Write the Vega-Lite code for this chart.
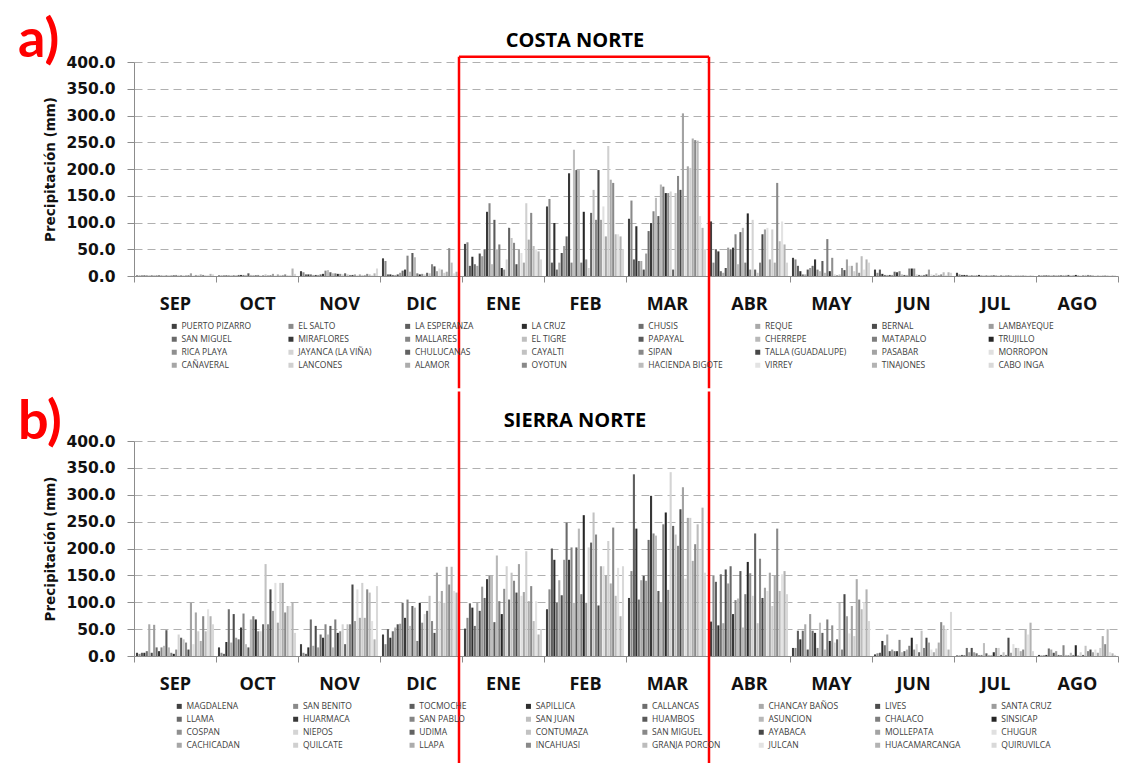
{
"$schema":"https://vega.github.io/schema/vega-lite/v6.json",
"padding":{"left":18,"top":14,"right":10,"bottom":0},
"spacing":0,
"resolve":{"scale":{"color":"independent"},"legend":{"color":"independent"}},
"config":{"font":"Open Sans","view":{"stroke":null},
"axis":{"domainColor":"#8c8c8c","tickColor":"#8c8c8c","labelColor":"#111111","titleColor":"#111111","labelFontWeight":"bold","titleFontWeight":"bold"}},
"datasets":{
"na":[{"i":0,"n":"PUERTO PIZARRO"},{"i":1,"n":"EL SALTO"},{"i":2,"n":"LA ESPERANZA"},{"i":3,"n":"LA CRUZ"},{"i":4,"n":"CHUSIS"},{"i":5,"n":"REQUE"},{"i":6,"n":"BERNAL"},{"i":7,"n":"LAMBAYEQUE"},{"i":8,"n":"SAN MIGUEL"},{"i":9,"n":"MIRAFLORES"},{"i":10,"n":"MALLARES"},{"i":11,"n":"EL TIGRE"},{"i":12,"n":"PAPAYAL"},{"i":13,"n":"CHERREPE"},{"i":14,"n":"MATAPALO"},{"i":15,"n":"TRUJILLO"},{"i":16,"n":"RICA PLAYA"},{"i":17,"n":"JAYANCA (LA VIÑA)"},{"i":18,"n":"CHULUCANAS"},{"i":19,"n":"CAYALTI"},{"i":20,"n":"SIPAN"},{"i":21,"n":"TALLA (GUADALUPE)"},{"i":22,"n":"PASABAR"},{"i":23,"n":"MORROPON"},{"i":24,"n":"CAÑAVERAL"},{"i":25,"n":"LANCONES"},{"i":26,"n":"ALAMOR"},{"i":27,"n":"OYOTUN"},{"i":28,"n":"HACIENDA BIGOTE"},{"i":29,"n":"VIRREY"},{"i":30,"n":"TINAJONES"},{"i":31,"n":"CABO INGA"}],
"nb":[{"i":0,"n":"MAGDALENA"},{"i":1,"n":"SAN BENITO"},{"i":2,"n":"TOCMOCHE"},{"i":3,"n":"SAPILLICA"},{"i":4,"n":"CALLANCAS"},{"i":5,"n":"CHANCAY BAÑOS"},{"i":6,"n":"LIVES"},{"i":7,"n":"SANTA CRUZ"},{"i":8,"n":"LLAMA"},{"i":9,"n":"HUARMACA"},{"i":10,"n":"SAN PABLO"},{"i":11,"n":"SAN JUAN"},{"i":12,"n":"HUAMBOS"},{"i":13,"n":"ASUNCION"},{"i":14,"n":"CHALACO"},{"i":15,"n":"SINSICAP"},{"i":16,"n":"COSPAN"},{"i":17,"n":"NIEPOS"},{"i":18,"n":"UDIMA"},{"i":19,"n":"CONTUMAZA"},{"i":20,"n":"SAN MIGUEL"},{"i":21,"n":"AYABACA"},{"i":22,"n":"MOLLEPATA"},{"i":23,"n":"CHUGUR"},{"i":24,"n":"CACHICADAN"},{"i":25,"n":"QUILCATE"},{"i":26,"n":"LLAPA"},{"i":27,"n":"INCAHUASI"},{"i":28,"n":"GRANJA PORCON"},{"i":29,"n":"JULCAN"},{"i":30,"n":"HUACAMARCANGA"},{"i":31,"n":"QUIRUVILCA"}],
"ca":[
{"m":"SEP","i":0,"v":1},{"m":"SEP","i":1,"v":1},{"m":"SEP","i":2,"v":1},{"m":"SEP","i":3,"v":1},{"m":"SEP","i":4,"v":1},{"m":"SEP","i":5,"v":1},{"m":"SEP","i":6,"v":1},{"m":"SEP","i":7,"v":1},{"m":"SEP","i":8,"v":1},{"m":"SEP","i":9,"v":1},{"m":"SEP","i":10,"v":1},{"m":"SEP","i":11,"v":1},{"m":"SEP","i":12,"v":1},{"m":"SEP","i":13,"v":1},{"m":"SEP","i":14,"v":1},{"m":"SEP","i":15,"v":1},{"m":"SEP","i":16,"v":2},{"m":"SEP","i":17,"v":2},{"m":"SEP","i":18,"v":1},{"m":"SEP","i":19,"v":1},{"m":"SEP","i":20,"v":1},{"m":"SEP","i":21,"v":1},{"m":"SEP","i":22,"v":5},{"m":"SEP","i":23,"v":1},{"m":"SEP","i":24,"v":2},{"m":"SEP","i":25,"v":2},{"m":"SEP","i":26,"v":3},{"m":"SEP","i":27,"v":2},{"m":"SEP","i":28,"v":1},{"m":"SEP","i":29,"v":2},{"m":"SEP","i":30,"v":4},{"m":"SEP","i":31,"v":3},
{"m":"OCT","i":0,"v":1},{"m":"OCT","i":1,"v":1},{"m":"OCT","i":2,"v":1},{"m":"OCT","i":3,"v":1},{"m":"OCT","i":4,"v":1},{"m":"OCT","i":5,"v":1},{"m":"OCT","i":6,"v":1},{"m":"OCT","i":7,"v":1},{"m":"OCT","i":8,"v":2},{"m":"OCT","i":9,"v":2},{"m":"OCT","i":10,"v":2},{"m":"OCT","i":11,"v":2},{"m":"OCT","i":12,"v":5},{"m":"OCT","i":13,"v":2},{"m":"OCT","i":14,"v":1},{"m":"OCT","i":15,"v":1},{"m":"OCT","i":16,"v":2},{"m":"OCT","i":17,"v":1},{"m":"OCT","i":18,"v":1},{"m":"OCT","i":19,"v":3},{"m":"OCT","i":20,"v":1},{"m":"OCT","i":21,"v":1},{"m":"OCT","i":22,"v":4},{"m":"OCT","i":23,"v":1},{"m":"OCT","i":24,"v":3},{"m":"OCT","i":25,"v":2},{"m":"OCT","i":26,"v":2},{"m":"OCT","i":27,"v":3},{"m":"OCT","i":28,"v":1},{"m":"OCT","i":29,"v":2},{"m":"OCT","i":30,"v":14},{"m":"OCT","i":31,"v":4},
{"m":"NOV","i":0,"v":9},{"m":"NOV","i":1,"v":7},{"m":"NOV","i":2,"v":3},{"m":"NOV","i":3,"v":3},{"m":"NOV","i":4,"v":3},{"m":"NOV","i":5,"v":2},{"m":"NOV","i":6,"v":2},{"m":"NOV","i":7,"v":2},{"m":"NOV","i":8,"v":3},{"m":"NOV","i":9,"v":4},{"m":"NOV","i":10,"v":10},{"m":"NOV","i":11,"v":11},{"m":"NOV","i":12,"v":7},{"m":"NOV","i":13,"v":5},{"m":"NOV","i":14,"v":5},{"m":"NOV","i":15,"v":4},{"m":"NOV","i":16,"v":4},{"m":"NOV","i":17,"v":3},{"m":"NOV","i":18,"v":5},{"m":"NOV","i":19,"v":3},{"m":"NOV","i":20,"v":2},{"m":"NOV","i":21,"v":2},{"m":"NOV","i":22,"v":3},{"m":"NOV","i":23,"v":2},{"m":"NOV","i":24,"v":3},{"m":"NOV","i":25,"v":2},{"m":"NOV","i":26,"v":2},{"m":"NOV","i":27,"v":4},{"m":"NOV","i":28,"v":3},{"m":"NOV","i":29,"v":2},{"m":"NOV","i":30,"v":5},{"m":"NOV","i":31,"v":14},
{"m":"DIC","i":0,"v":33},{"m":"DIC","i":1,"v":28},{"m":"DIC","i":2,"v":3},{"m":"DIC","i":3,"v":3},{"m":"DIC","i":4,"v":2},{"m":"DIC","i":5,"v":2},{"m":"DIC","i":6,"v":3},{"m":"DIC","i":7,"v":6},{"m":"DIC","i":8,"v":10},{"m":"DIC","i":9,"v":12},{"m":"DIC","i":10,"v":38},{"m":"DIC","i":11,"v":8},{"m":"DIC","i":12,"v":43},{"m":"DIC","i":13,"v":35},{"m":"DIC","i":14,"v":5},{"m":"DIC","i":15,"v":3},{"m":"DIC","i":16,"v":4},{"m":"DIC","i":17,"v":3},{"m":"DIC","i":18,"v":6},{"m":"DIC","i":19,"v":5},{"m":"DIC","i":20,"v":22},{"m":"DIC","i":21,"v":18},{"m":"DIC","i":22,"v":9},{"m":"DIC","i":23,"v":14},{"m":"DIC","i":24,"v":12},{"m":"DIC","i":25,"v":6},{"m":"DIC","i":26,"v":8},{"m":"DIC","i":27,"v":52},{"m":"DIC","i":28,"v":25},{"m":"DIC","i":29,"v":5},{"m":"DIC","i":30,"v":8},{"m":"DIC","i":31,"v":3},
{"m":"ENE","i":0,"v":60},{"m":"ENE","i":1,"v":63},{"m":"ENE","i":2,"v":19},{"m":"ENE","i":3,"v":36},{"m":"ENE","i":4,"v":22},{"m":"ENE","i":5,"v":19},{"m":"ENE","i":6,"v":42},{"m":"ENE","i":7,"v":37},{"m":"ENE","i":8,"v":50},{"m":"ENE","i":9,"v":120},{"m":"ENE","i":10,"v":136},{"m":"ENE","i":11,"v":22},{"m":"ENE","i":12,"v":105},{"m":"ENE","i":13,"v":50},{"m":"ENE","i":14,"v":59},{"m":"ENE","i":15,"v":15},{"m":"ENE","i":16,"v":12},{"m":"ENE","i":17,"v":31},{"m":"ENE","i":18,"v":90},{"m":"ENE","i":19,"v":71},{"m":"ENE","i":20,"v":62},{"m":"ENE","i":21,"v":22},{"m":"ENE","i":22,"v":50},{"m":"ENE","i":23,"v":43},{"m":"ENE","i":24,"v":25},{"m":"ENE","i":25,"v":136},{"m":"ENE","i":26,"v":68},{"m":"ENE","i":27,"v":118},{"m":"ENE","i":28,"v":56},{"m":"ENE","i":29,"v":50},{"m":"ENE","i":30,"v":46},{"m":"ENE","i":31,"v":31},
{"m":"FEB","i":0,"v":130},{"m":"FEB","i":1,"v":144},{"m":"FEB","i":2,"v":25},{"m":"FEB","i":3,"v":99},{"m":"FEB","i":4,"v":12},{"m":"FEB","i":5,"v":25},{"m":"FEB","i":6,"v":43},{"m":"FEB","i":7,"v":56},{"m":"FEB","i":8,"v":74},{"m":"FEB","i":9,"v":192},{"m":"FEB","i":10,"v":25},{"m":"FEB","i":11,"v":236},{"m":"FEB","i":12,"v":198},{"m":"FEB","i":13,"v":198},{"m":"FEB","i":14,"v":25},{"m":"FEB","i":15,"v":120},{"m":"FEB","i":16,"v":31},{"m":"FEB","i":17,"v":15},{"m":"FEB","i":18,"v":118},{"m":"FEB","i":19,"v":161},{"m":"FEB","i":20,"v":105},{"m":"FEB","i":21,"v":198},{"m":"FEB","i":22,"v":105},{"m":"FEB","i":23,"v":130},{"m":"FEB","i":24,"v":74},{"m":"FEB","i":25,"v":243},{"m":"FEB","i":26,"v":180},{"m":"FEB","i":27,"v":174},{"m":"FEB","i":28,"v":78},{"m":"FEB","i":29,"v":78},{"m":"FEB","i":30,"v":74},{"m":"FEB","i":31,"v":50},
{"m":"MAR","i":0,"v":107},{"m":"MAR","i":1,"v":141},{"m":"MAR","i":2,"v":31},{"m":"MAR","i":3,"v":93},{"m":"MAR","i":4,"v":28},{"m":"MAR","i":5,"v":28},{"m":"MAR","i":6,"v":12},{"m":"MAR","i":7,"v":42},{"m":"MAR","i":8,"v":84},{"m":"MAR","i":9,"v":99},{"m":"MAR","i":10,"v":121},{"m":"MAR","i":11,"v":146},{"m":"MAR","i":12,"v":112},{"m":"MAR","i":13,"v":171},{"m":"MAR","i":14,"v":167},{"m":"MAR","i":15,"v":155},{"m":"MAR","i":16,"v":155},{"m":"MAR","i":17,"v":158},{"m":"MAR","i":18,"v":12},{"m":"MAR","i":19,"v":155},{"m":"MAR","i":20,"v":187},{"m":"MAR","i":21,"v":161},{"m":"MAR","i":22,"v":304},{"m":"MAR","i":23,"v":146},{"m":"MAR","i":24,"v":205},{"m":"MAR","i":25,"v":202},{"m":"MAR","i":26,"v":257},{"m":"MAR","i":27,"v":254},{"m":"MAR","i":28,"v":253},{"m":"MAR","i":29,"v":112},{"m":"MAR","i":30,"v":90},{"m":"MAR","i":31,"v":50},
{"m":"ABR","i":0,"v":102},{"m":"ABR","i":1,"v":25},{"m":"ABR","i":2,"v":50},{"m":"ABR","i":3,"v":46},{"m":"ABR","i":4,"v":9},{"m":"ABR","i":5,"v":6},{"m":"ABR","i":6,"v":15},{"m":"ABR","i":7,"v":53},{"m":"ABR","i":8,"v":50},{"m":"ABR","i":9,"v":53},{"m":"ABR","i":10,"v":78},{"m":"ABR","i":11,"v":22},{"m":"ABR","i":12,"v":82},{"m":"ABR","i":13,"v":90},{"m":"ABR","i":14,"v":25},{"m":"ABR","i":15,"v":117},{"m":"ABR","i":16,"v":12},{"m":"ABR","i":17,"v":105},{"m":"ABR","i":18,"v":12},{"m":"ABR","i":19,"v":6},{"m":"ABR","i":20,"v":25},{"m":"ABR","i":21,"v":78},{"m":"ABR","i":22,"v":87},{"m":"ABR","i":23,"v":90},{"m":"ABR","i":24,"v":31},{"m":"ABR","i":25,"v":87},{"m":"ABR","i":26,"v":25},{"m":"ABR","i":27,"v":174},{"m":"ABR","i":28,"v":65},{"m":"ABR","i":29,"v":102},{"m":"ABR","i":30,"v":59},{"m":"ABR","i":31,"v":25},
{"m":"MAY","i":0,"v":34},{"m":"MAY","i":1,"v":31},{"m":"MAY","i":2,"v":19},{"m":"MAY","i":3,"v":9},{"m":"MAY","i":4,"v":3},{"m":"MAY","i":5,"v":3},{"m":"MAY","i":6,"v":12},{"m":"MAY","i":7,"v":15},{"m":"MAY","i":8,"v":19},{"m":"MAY","i":9,"v":31},{"m":"MAY","i":10,"v":12},{"m":"MAY","i":11,"v":9},{"m":"MAY","i":12,"v":28},{"m":"MAY","i":13,"v":6},{"m":"MAY","i":14,"v":69},{"m":"MAY","i":15,"v":9},{"m":"MAY","i":16,"v":34},{"m":"MAY","i":17,"v":3},{"m":"MAY","i":18,"v":1},{"m":"MAY","i":19,"v":3},{"m":"MAY","i":20,"v":15},{"m":"MAY","i":21,"v":11},{"m":"MAY","i":22,"v":31},{"m":"MAY","i":23,"v":19},{"m":"MAY","i":24,"v":19},{"m":"MAY","i":25,"v":9},{"m":"MAY","i":26,"v":25},{"m":"MAY","i":27,"v":6},{"m":"MAY","i":28,"v":37},{"m":"MAY","i":29,"v":12},{"m":"MAY","i":30,"v":31},{"m":"MAY","i":31,"v":25},
{"m":"JUN","i":0,"v":12},{"m":"JUN","i":1,"v":6},{"m":"JUN","i":2,"v":12},{"m":"JUN","i":3,"v":4},{"m":"JUN","i":4,"v":2},{"m":"JUN","i":5,"v":2},{"m":"JUN","i":6,"v":2},{"m":"JUN","i":7,"v":2},{"m":"JUN","i":8,"v":8},{"m":"JUN","i":9,"v":7},{"m":"JUN","i":10,"v":9},{"m":"JUN","i":11,"v":3},{"m":"JUN","i":12,"v":2},{"m":"JUN","i":13,"v":2},{"m":"JUN","i":14,"v":14},{"m":"JUN","i":15,"v":14},{"m":"JUN","i":16,"v":14},{"m":"JUN","i":17,"v":3},{"m":"JUN","i":18,"v":2},{"m":"JUN","i":19,"v":2},{"m":"JUN","i":20,"v":2},{"m":"JUN","i":21,"v":3},{"m":"JUN","i":22,"v":12},{"m":"JUN","i":23,"v":3},{"m":"JUN","i":24,"v":2},{"m":"JUN","i":25,"v":5},{"m":"JUN","i":26,"v":2},{"m":"JUN","i":27,"v":3},{"m":"JUN","i":28,"v":7},{"m":"JUN","i":29,"v":2},{"m":"JUN","i":30,"v":7},{"m":"JUN","i":31,"v":6},
{"m":"JUL","i":0,"v":6},{"m":"JUL","i":1,"v":3},{"m":"JUL","i":2,"v":2},{"m":"JUL","i":3,"v":2},{"m":"JUL","i":4,"v":2},{"m":"JUL","i":5,"v":1},{"m":"JUL","i":6,"v":1},{"m":"JUL","i":7,"v":1},{"m":"JUL","i":8,"v":1},{"m":"JUL","i":9,"v":2},{"m":"JUL","i":10,"v":1},{"m":"JUL","i":11,"v":1},{"m":"JUL","i":12,"v":1},{"m":"JUL","i":13,"v":1},{"m":"JUL","i":14,"v":1},{"m":"JUL","i":15,"v":1},{"m":"JUL","i":16,"v":1},{"m":"JUL","i":17,"v":1},{"m":"JUL","i":18,"v":1},{"m":"JUL","i":19,"v":1},{"m":"JUL","i":20,"v":1},{"m":"JUL","i":21,"v":1},{"m":"JUL","i":22,"v":1},{"m":"JUL","i":23,"v":1},{"m":"JUL","i":24,"v":1},{"m":"JUL","i":25,"v":2},{"m":"JUL","i":26,"v":1},{"m":"JUL","i":27,"v":1},{"m":"JUL","i":28,"v":1},{"m":"JUL","i":29,"v":1},{"m":"JUL","i":30,"v":1},{"m":"JUL","i":31,"v":1},
{"m":"AGO","i":0,"v":1},{"m":"AGO","i":1,"v":1},{"m":"AGO","i":2,"v":1},{"m":"AGO","i":3,"v":1},{"m":"AGO","i":4,"v":1},{"m":"AGO","i":5,"v":1},{"m":"AGO","i":6,"v":1},{"m":"AGO","i":7,"v":1},{"m":"AGO","i":8,"v":1},{"m":"AGO","i":9,"v":1},{"m":"AGO","i":10,"v":1},{"m":"AGO","i":11,"v":2},{"m":"AGO","i":12,"v":2},{"m":"AGO","i":13,"v":1},{"m":"AGO","i":14,"v":1},{"m":"AGO","i":15,"v":2},{"m":"AGO","i":16,"v":1},{"m":"AGO","i":17,"v":1},{"m":"AGO","i":18,"v":1},{"m":"AGO","i":19,"v":2},{"m":"AGO","i":20,"v":2},{"m":"AGO","i":21,"v":1},{"m":"AGO","i":22,"v":1},{"m":"AGO","i":23,"v":1},{"m":"AGO","i":24,"v":1},{"m":"AGO","i":25,"v":1},{"m":"AGO","i":26,"v":1},{"m":"AGO","i":27,"v":1},{"m":"AGO","i":28,"v":1},{"m":"AGO","i":29,"v":1},{"m":"AGO","i":30,"v":1},{"m":"AGO","i":31,"v":1}
],
"cb":[
{"m":"SEP","i":0,"v":6},{"m":"SEP","i":1,"v":4},{"m":"SEP","i":2,"v":6},{"m":"SEP","i":3,"v":6},{"m":"SEP","i":4,"v":9},{"m":"SEP","i":5,"v":59},{"m":"SEP","i":6,"v":6},{"m":"SEP","i":7,"v":58},{"m":"SEP","i":8,"v":16},{"m":"SEP","i":9,"v":9},{"m":"SEP","i":10,"v":16},{"m":"SEP","i":11,"v":19},{"m":"SEP","i":12,"v":48},{"m":"SEP","i":13,"v":16},{"m":"SEP","i":14,"v":6},{"m":"SEP","i":15,"v":4},{"m":"SEP","i":16,"v":12},{"m":"SEP","i":17,"v":40},{"m":"SEP","i":18,"v":34},{"m":"SEP","i":19,"v":31},{"m":"SEP","i":20,"v":25},{"m":"SEP","i":21,"v":12},{"m":"SEP","i":22,"v":99},{"m":"SEP","i":23,"v":22},{"m":"SEP","i":24,"v":81},{"m":"SEP","i":25,"v":46},{"m":"SEP","i":26,"v":28},{"m":"SEP","i":27,"v":74},{"m":"SEP","i":28,"v":46},{"m":"SEP","i":29,"v":87},{"m":"SEP","i":30,"v":74},{"m":"SEP","i":31,"v":59},
{"m":"OCT","i":0,"v":16},{"m":"OCT","i":1,"v":6},{"m":"OCT","i":2,"v":4},{"m":"OCT","i":3,"v":26},{"m":"OCT","i":4,"v":87},{"m":"OCT","i":5,"v":25},{"m":"OCT","i":6,"v":78},{"m":"OCT","i":7,"v":34},{"m":"OCT","i":8,"v":31},{"m":"OCT","i":9,"v":53},{"m":"OCT","i":10,"v":79},{"m":"OCT","i":11,"v":22},{"m":"OCT","i":12,"v":16},{"m":"OCT","i":13,"v":68},{"m":"OCT","i":14,"v":74},{"m":"OCT","i":15,"v":68},{"m":"OCT","i":16,"v":46},{"m":"OCT","i":17,"v":46},{"m":"OCT","i":18,"v":59},{"m":"OCT","i":19,"v":171},{"m":"OCT","i":20,"v":59},{"m":"OCT","i":21,"v":124},{"m":"OCT","i":22,"v":84},{"m":"OCT","i":23,"v":136},{"m":"OCT","i":24,"v":62},{"m":"OCT","i":25,"v":136},{"m":"OCT","i":26,"v":136},{"m":"OCT","i":27,"v":81},{"m":"OCT","i":28,"v":93},{"m":"OCT","i":29,"v":93},{"m":"OCT","i":30,"v":99},{"m":"OCT","i":31,"v":43},
{"m":"NOV","i":0,"v":22},{"m":"NOV","i":1,"v":6},{"m":"NOV","i":2,"v":4},{"m":"NOV","i":3,"v":16},{"m":"NOV","i":4,"v":68},{"m":"NOV","i":5,"v":19},{"m":"NOV","i":6,"v":56},{"m":"NOV","i":7,"v":16},{"m":"NOV","i":8,"v":40},{"m":"NOV","i":9,"v":34},{"m":"NOV","i":10,"v":59},{"m":"NOV","i":11,"v":40},{"m":"NOV","i":12,"v":56},{"m":"NOV","i":13,"v":16},{"m":"NOV","i":14,"v":68},{"m":"NOV","i":15,"v":43},{"m":"NOV","i":16,"v":46},{"m":"NOV","i":17,"v":59},{"m":"NOV","i":18,"v":22},{"m":"NOV","i":19,"v":59},{"m":"NOV","i":20,"v":59},{"m":"NOV","i":21,"v":133},{"m":"NOV","i":22,"v":65},{"m":"NOV","i":23,"v":124},{"m":"NOV","i":24,"v":71},{"m":"NOV","i":25,"v":136},{"m":"NOV","i":26,"v":71},{"m":"NOV","i":27,"v":124},{"m":"NOV","i":28,"v":118},{"m":"NOV","i":29,"v":65},{"m":"NOV","i":30,"v":31},{"m":"NOV","i":31,"v":130},
{"m":"DIC","i":0,"v":40},{"m":"DIC","i":1,"v":22},{"m":"DIC","i":2,"v":50},{"m":"DIC","i":3,"v":34},{"m":"DIC","i":4,"v":46},{"m":"DIC","i":5,"v":53},{"m":"DIC","i":6,"v":59},{"m":"DIC","i":7,"v":60},{"m":"DIC","i":8,"v":99},{"m":"DIC","i":9,"v":71},{"m":"DIC","i":10,"v":105},{"m":"DIC","i":11,"v":56},{"m":"DIC","i":12,"v":93},{"m":"DIC","i":13,"v":90},{"m":"DIC","i":14,"v":28},{"m":"DIC","i":15,"v":99},{"m":"DIC","i":16,"v":62},{"m":"DIC","i":17,"v":78},{"m":"DIC","i":18,"v":84},{"m":"DIC","i":19,"v":112},{"m":"DIC","i":20,"v":65},{"m":"DIC","i":21,"v":43},{"m":"DIC","i":22,"v":155},{"m":"DIC","i":23,"v":102},{"m":"DIC","i":24,"v":121},{"m":"DIC","i":25,"v":99},{"m":"DIC","i":26,"v":166},{"m":"DIC","i":27,"v":133},{"m":"DIC","i":28,"v":166},{"m":"DIC","i":29,"v":121},{"m":"DIC","i":30,"v":118},{"m":"DIC","i":31,"v":135},
{"m":"ENE","i":0,"v":51},{"m":"ENE","i":1,"v":71},{"m":"ENE","i":2,"v":98},{"m":"ENE","i":3,"v":90},{"m":"ENE","i":4,"v":56},{"m":"ENE","i":5,"v":99},{"m":"ENE","i":6,"v":84},{"m":"ENE","i":7,"v":129},{"m":"ENE","i":8,"v":108},{"m":"ENE","i":9,"v":143},{"m":"ENE","i":10,"v":149},{"m":"ENE","i":11,"v":149},{"m":"ENE","i":12,"v":63},{"m":"ENE","i":13,"v":187},{"m":"ENE","i":14,"v":102},{"m":"ENE","i":15,"v":78},{"m":"ENE","i":16,"v":125},{"m":"ENE","i":17,"v":167},{"m":"ENE","i":18,"v":105},{"m":"ENE","i":19,"v":155},{"m":"ENE","i":20,"v":140},{"m":"ENE","i":21,"v":118},{"m":"ENE","i":22,"v":171},{"m":"ENE","i":23,"v":112},{"m":"ENE","i":24,"v":119},{"m":"ENE","i":25,"v":195},{"m":"ENE","i":26,"v":102},{"m":"ENE","i":27,"v":130},{"m":"ENE","i":28,"v":65},{"m":"ENE","i":29,"v":102},{"m":"ENE","i":30,"v":40},{"m":"ENE","i":31,"v":50},
{"m":"FEB","i":0,"v":87},{"m":"FEB","i":1,"v":124},{"m":"FEB","i":2,"v":200},{"m":"FEB","i":3,"v":179},{"m":"FEB","i":4,"v":99},{"m":"FEB","i":5,"v":141},{"m":"FEB","i":6,"v":113},{"m":"FEB","i":7,"v":179},{"m":"FEB","i":8,"v":248},{"m":"FEB","i":9,"v":179},{"m":"FEB","i":10,"v":202},{"m":"FEB","i":11,"v":99},{"m":"FEB","i":12,"v":202},{"m":"FEB","i":13,"v":237},{"m":"FEB","i":14,"v":115},{"m":"FEB","i":15,"v":262},{"m":"FEB","i":16,"v":99},{"m":"FEB","i":17,"v":202},{"m":"FEB","i":18,"v":211},{"m":"FEB","i":19,"v":267},{"m":"FEB","i":20,"v":226},{"m":"FEB","i":21,"v":94},{"m":"FEB","i":22,"v":167},{"m":"FEB","i":23,"v":167},{"m":"FEB","i":24,"v":149},{"m":"FEB","i":25,"v":214},{"m":"FEB","i":26,"v":135},{"m":"FEB","i":27,"v":239},{"m":"FEB","i":28,"v":112},{"m":"FEB","i":29,"v":164},{"m":"FEB","i":30,"v":74},{"m":"FEB","i":31,"v":167},
{"m":"MAR","i":0,"v":108},{"m":"MAR","i":1,"v":158},{"m":"MAR","i":2,"v":338},{"m":"MAR","i":3,"v":237},{"m":"MAR","i":4,"v":105},{"m":"MAR","i":5,"v":141},{"m":"MAR","i":6,"v":149},{"m":"MAR","i":7,"v":140},{"m":"MAR","i":8,"v":216},{"m":"MAR","i":9,"v":298},{"m":"MAR","i":10,"v":228},{"m":"MAR","i":11,"v":224},{"m":"MAR","i":12,"v":121},{"m":"MAR","i":13,"v":100},{"m":"MAR","i":14,"v":245},{"m":"MAR","i":15,"v":267},{"m":"MAR","i":16,"v":123},{"m":"MAR","i":17,"v":342},{"m":"MAR","i":18,"v":242},{"m":"MAR","i":19,"v":226},{"m":"MAR","i":20,"v":205},{"m":"MAR","i":21,"v":273},{"m":"MAR","i":22,"v":314},{"m":"MAR","i":23,"v":144},{"m":"MAR","i":24,"v":257},{"m":"MAR","i":25,"v":257},{"m":"MAR","i":26,"v":177},{"m":"MAR","i":27,"v":208},{"m":"MAR","i":28,"v":245},{"m":"MAR","i":29,"v":198},{"m":"MAR","i":30,"v":276},{"m":"MAR","i":31,"v":155},
{"m":"ABR","i":0,"v":64},{"m":"ABR","i":1,"v":149},{"m":"ABR","i":2,"v":138},{"m":"ABR","i":3,"v":57},{"m":"ABR","i":4,"v":152},{"m":"ABR","i":5,"v":61},{"m":"ABR","i":6,"v":161},{"m":"ABR","i":7,"v":135},{"m":"ABR","i":8,"v":167},{"m":"ABR","i":9,"v":78},{"m":"ABR","i":10,"v":104},{"m":"ABR","i":11,"v":107},{"m":"ABR","i":12,"v":158},{"m":"ABR","i":13,"v":53},{"m":"ABR","i":14,"v":115},{"m":"ABR","i":15,"v":175},{"m":"ABR","i":16,"v":154},{"m":"ABR","i":17,"v":112},{"m":"ABR","i":18,"v":228},{"m":"ABR","i":19,"v":61},{"m":"ABR","i":20,"v":181},{"m":"ABR","i":21,"v":108},{"m":"ABR","i":22,"v":127},{"m":"ABR","i":23,"v":121},{"m":"ABR","i":24,"v":155},{"m":"ABR","i":25,"v":93},{"m":"ABR","i":26,"v":149},{"m":"ABR","i":27,"v":237},{"m":"ABR","i":28,"v":121},{"m":"ABR","i":29,"v":152},{"m":"ABR","i":30,"v":158},{"m":"ABR","i":31,"v":115},
{"m":"MAY","i":0,"v":15},{"m":"MAY","i":1,"v":15},{"m":"MAY","i":2,"v":47},{"m":"MAY","i":3,"v":31},{"m":"MAY","i":4,"v":47},{"m":"MAY","i":5,"v":59},{"m":"MAY","i":6,"v":12},{"m":"MAY","i":7,"v":78},{"m":"MAY","i":8,"v":47},{"m":"MAY","i":9,"v":43},{"m":"MAY","i":10,"v":15},{"m":"MAY","i":11,"v":62},{"m":"MAY","i":12,"v":43},{"m":"MAY","i":13,"v":12},{"m":"MAY","i":14,"v":68},{"m":"MAY","i":15,"v":28},{"m":"MAY","i":16,"v":57},{"m":"MAY","i":17,"v":25},{"m":"MAY","i":18,"v":31},{"m":"MAY","i":19,"v":99},{"m":"MAY","i":20,"v":12},{"m":"MAY","i":21,"v":115},{"m":"MAY","i":22,"v":74},{"m":"MAY","i":23,"v":42},{"m":"MAY","i":24,"v":93},{"m":"MAY","i":25,"v":37},{"m":"MAY","i":26,"v":143},{"m":"MAY","i":27,"v":105},{"m":"MAY","i":28,"v":87},{"m":"MAY","i":29,"v":100},{"m":"MAY","i":30,"v":124},{"m":"MAY","i":31,"v":65},
{"m":"JUN","i":0,"v":3},{"m":"JUN","i":1,"v":5},{"m":"JUN","i":2,"v":6},{"m":"JUN","i":3,"v":28},{"m":"JUN","i":4,"v":20},{"m":"JUN","i":5,"v":40},{"m":"JUN","i":6,"v":9},{"m":"JUN","i":7,"v":12},{"m":"JUN","i":8,"v":9},{"m":"JUN","i":9,"v":9},{"m":"JUN","i":10,"v":30},{"m":"JUN","i":11,"v":7},{"m":"JUN","i":12,"v":9},{"m":"JUN","i":13,"v":12},{"m":"JUN","i":14,"v":19},{"m":"JUN","i":15,"v":34},{"m":"JUN","i":16,"v":12},{"m":"JUN","i":17,"v":22},{"m":"JUN","i":18,"v":7},{"m":"JUN","i":19,"v":47},{"m":"JUN","i":20,"v":15},{"m":"JUN","i":21,"v":34},{"m":"JUN","i":22,"v":25},{"m":"JUN","i":23,"v":12},{"m":"JUN","i":24,"v":7},{"m":"JUN","i":25,"v":14},{"m":"JUN","i":26,"v":25},{"m":"JUN","i":27,"v":63},{"m":"JUN","i":28,"v":57},{"m":"JUN","i":29,"v":50},{"m":"JUN","i":30,"v":12},{"m":"JUN","i":31,"v":82},
{"m":"JUL","i":0,"v":1},{"m":"JUL","i":1,"v":1},{"m":"JUL","i":2,"v":2},{"m":"JUL","i":3,"v":1},{"m":"JUL","i":4,"v":15},{"m":"JUL","i":5,"v":7},{"m":"JUL","i":6,"v":15},{"m":"JUL","i":7,"v":7},{"m":"JUL","i":8,"v":5},{"m":"JUL","i":9,"v":1},{"m":"JUL","i":10,"v":2},{"m":"JUL","i":11,"v":24},{"m":"JUL","i":12,"v":5},{"m":"JUL","i":13,"v":2},{"m":"JUL","i":14,"v":1},{"m":"JUL","i":15,"v":7},{"m":"JUL","i":16,"v":15},{"m":"JUL","i":17,"v":15},{"m":"JUL","i":18,"v":2},{"m":"JUL","i":19,"v":7},{"m":"JUL","i":20,"v":2},{"m":"JUL","i":21,"v":34},{"m":"JUL","i":22,"v":6},{"m":"JUL","i":23,"v":22},{"m":"JUL","i":24,"v":15},{"m":"JUL","i":25,"v":15},{"m":"JUL","i":26,"v":9},{"m":"JUL","i":27,"v":12},{"m":"JUL","i":28,"v":50},{"m":"JUL","i":29,"v":40},{"m":"JUL","i":30,"v":62},{"m":"JUL","i":31,"v":9},
{"m":"AGO","i":0,"v":2},{"m":"AGO","i":1,"v":1},{"m":"AGO","i":2,"v":1},{"m":"AGO","i":3,"v":2},{"m":"AGO","i":4,"v":14},{"m":"AGO","i":5,"v":12},{"m":"AGO","i":6,"v":6},{"m":"AGO","i":7,"v":9},{"m":"AGO","i":8,"v":2},{"m":"AGO","i":9,"v":1},{"m":"AGO","i":10,"v":20},{"m":"AGO","i":11,"v":2},{"m":"AGO","i":12,"v":1},{"m":"AGO","i":13,"v":6},{"m":"AGO","i":14,"v":2},{"m":"AGO","i":15,"v":20},{"m":"AGO","i":16,"v":1},{"m":"AGO","i":17,"v":7},{"m":"AGO","i":18,"v":2},{"m":"AGO","i":19,"v":19},{"m":"AGO","i":20,"v":9},{"m":"AGO","i":21,"v":12},{"m":"AGO","i":22,"v":7},{"m":"AGO","i":23,"v":12},{"m":"AGO","i":24,"v":6},{"m":"AGO","i":25,"v":15},{"m":"AGO","i":26,"v":37},{"m":"AGO","i":27,"v":22},{"m":"AGO","i":28,"v":50},{"m":"AGO","i":29,"v":7},{"m":"AGO","i":30,"v":5},{"m":"AGO","i":31,"v":2}
]},
"vconcat":[
{"data":{"name":"ca"},
"transform":[{"lookup":"i","from":{"data":{"name":"na"},"key":"i","fields":["n"]}}],
"width":984,"height":214,
"title":{"text":"COSTA NORTE","font":"Open Sans","fontSize":20,"fontWeight":"bold","color":"#000000","dx":-51,"offset":-37},
"layer":[
{"mark":{"type":"bar"},
"encoding":{
"x":{"field":"m","type":"nominal","sort":["SEP","OCT","NOV","DIC","ENE","FEB","MAR","ABR","MAY","JUN","JUL","AGO"],"scale":{"paddingInner":0,"paddingOuter":0},"axis":{"title":null,"labelAngle":0,"labelFont":"Open Sans","labelFontSize":18,"labelPadding":13.5,"tickSize":6,"tickBand":"extent","grid":false}},
"xOffset":{"field":"i","type":"ordinal","scale":{"paddingInner":0.15,"paddingOuter":0.8}},
"y":{"field":"v","type":"quantitative","scale":{"domain":[0,400]},"axis":{"title":"Precipitación (mm)","values":[0,50,100,150,200,250,300,350,400],"tickCount":9,"format":".1f","labelOverlap":false,"labelFont":"DejaVu Sans","labelFontSize":15.5,"titleFont":"DejaVu Sans","titleFontSize":13.5,"tickSize":7,"labelPadding":12,"titlePadding":8,"gridDash":[8,5],"gridColor":"#b0b0b0"}},
"color":{"field":"n","type":"nominal","scale":{"domain":["PUERTO PIZARRO","EL SALTO","LA ESPERANZA","LA CRUZ","CHUSIS","REQUE","BERNAL","LAMBAYEQUE","SAN MIGUEL","MIRAFLORES","MALLARES","EL TIGRE","PAPAYAL","CHERREPE","MATAPALO","TRUJILLO","RICA PLAYA","JAYANCA (LA VIÑA)","CHULUCANAS","CAYALTI","SIPAN","TALLA (GUADALUPE)","PASABAR","MORROPON","CAÑAVERAL","LANCONES","ALAMOR","OYOTUN","HACIENDA BIGOTE","VIRREY","TINAJONES","CABO INGA"],"range":["#404040","#8a8a8a","#5e5e5e","#2e2e2e","#6e6e6e","#a9a9a9","#4c4c4c","#9c9c9c","#6a6a6a","#383838","#858585","#bfbfbf","#5a5a5a","#b8b8b8","#7e7e7e","#262626","#8f8f8f","#d4d4d4","#626262","#c2c2c2","#888888","#474747","#a3a3a3","#e0e0e0","#a6a6a6","#d0d0d0","#acacac","#898989","#bcbcbc","#e3e3e3","#b3b3b3","#d9d9d9"]},
"legend":{"title":null,"orient":"none","legendX":36,"legendY":260,"direction":"horizontal","columns":8,"gridAlign":"all","columnPadding":23.7,"rowPadding":4,"symbolLimit":40,"symbolType":"square","symbolSize":25,"symbolStrokeWidth":0,"labelFont":"Open Sans","labelFontSize":8.5,"labelColor":"#404040","labelOffset":3}}
}},
{"data":{"values":[{}]},"mark":{"type":"rule","color":"#ff0000","strokeWidth":2.5,"clip":false,"xOffset":-3},"encoding":{"x":{"datum":"ENE","bandPosition":0},"y":{"datum":410,"axis":{"title":"Precipitación (mm)","values":[0,50,100,150,200,250,300,350,400],"tickCount":9,"format":".1f","labelOverlap":false}},"y2":{"datum":-210}}},
{"data":{"values":[{}]},"mark":{"type":"rule","color":"#ff0000","strokeWidth":2.5,"clip":false,"xOffset":1},"encoding":{"x":{"datum":"ABR","bandPosition":0},"y":{"datum":410,"axis":{"title":"Precipitación (mm)","values":[0,50,100,150,200,250,300,350,400],"tickCount":9,"format":".1f","labelOverlap":false}},"y2":{"datum":-210}}},
{"data":{"values":[{}]},"mark":{"type":"rule","color":"#ff0000","strokeWidth":2.5,"clip":false,"xOffset":-3,"x2Offset":1},"encoding":{"x":{"datum":"ENE","bandPosition":0},"x2":{"datum":"ABR","bandPosition":0},"y":{"datum":410,"axis":{"title":"Precipitación (mm)","values":[0,50,100,150,200,250,300,350,400],"tickCount":9,"format":".1f","labelOverlap":false}}}},
{"data":{"values":[{}]},"mark":{"type":"text","text":"a)","font":"Lato","color":"#ff0000","fontSize":54,"fontWeight":"bold","align":"left","baseline":"alphabetic","dx":-116,"clip":false},"encoding":{"x":{"datum":"SEP","bandPosition":0},"y":{"datum":409,"axis":{"title":"Precipitación (mm)","values":[0,50,100,150,200,250,300,350,400],"tickCount":9,"format":".1f","labelOverlap":false}}}}
]},
{"data":{"name":"cb"},
"transform":[{"lookup":"i","from":{"data":{"name":"nb"},"key":"i","fields":["n"]}}],
"width":984,"height":215,
"title":{"text":"SIERRA NORTE","font":"Open Sans","fontSize":20,"fontWeight":"bold","color":"#000000","dx":-51,"offset":-41},
"layer":[
{"mark":{"type":"bar"},
"encoding":{
"x":{"field":"m","type":"nominal","sort":["SEP","OCT","NOV","DIC","ENE","FEB","MAR","ABR","MAY","JUN","JUL","AGO"],"scale":{"paddingInner":0,"paddingOuter":0},"axis":{"title":null,"labelAngle":0,"labelFont":"Open Sans","labelFontSize":18,"labelPadding":13.5,"tickSize":6,"tickBand":"extent","grid":false}},
"xOffset":{"field":"i","type":"ordinal","scale":{"paddingInner":0.15,"paddingOuter":0.8}},
"y":{"field":"v","type":"quantitative","scale":{"domain":[0,400]},"axis":{"title":"Precipitación (mm)","values":[0,50,100,150,200,250,300,350,400],"tickCount":9,"format":".1f","labelOverlap":false,"labelFont":"DejaVu Sans","labelFontSize":15.5,"titleFont":"DejaVu Sans","titleFontSize":13.5,"tickSize":7,"labelPadding":12,"titlePadding":8,"gridDash":[8,5],"gridColor":"#b0b0b0"}},
"color":{"field":"n","type":"nominal","scale":{"domain":["MAGDALENA","SAN BENITO","TOCMOCHE","SAPILLICA","CALLANCAS","CHANCAY BAÑOS","LIVES","SANTA CRUZ","LLAMA","HUARMACA","SAN PABLO","SAN JUAN","HUAMBOS","ASUNCION","CHALACO","SINSICAP","COSPAN","NIEPOS","UDIMA","CONTUMAZA","SAN MIGUEL","AYABACA","MOLLEPATA","CHUGUR","CACHICADAN","QUILCATE","LLAPA","INCAHUASI","GRANJA PORCON","JULCAN","HUACAMARCANGA","QUIRUVILCA"],"range":["#404040","#8a8a8a","#5e5e5e","#2e2e2e","#6e6e6e","#a9a9a9","#4c4c4c","#9c9c9c","#6a6a6a","#383838","#858585","#bfbfbf","#5a5a5a","#b8b8b8","#7e7e7e","#262626","#8f8f8f","#d4d4d4","#626262","#c2c2c2","#888888","#474747","#a3a3a3","#e0e0e0","#a6a6a6","#d0d0d0","#acacac","#898989","#bcbcbc","#e3e3e3","#b3b3b3","#d9d9d9"]},
"legend":{"title":null,"orient":"none","legendX":41,"legendY":261,"direction":"horizontal","columns":8,"gridAlign":"all","columnPadding":28.4,"rowPadding":4,"symbolLimit":40,"symbolType":"square","symbolSize":25,"symbolStrokeWidth":0,"labelFont":"Open Sans","labelFontSize":8.5,"labelColor":"#404040","labelOffset":3}}
}},
{"data":{"values":[{}]},"mark":{"type":"rule","color":"#ff0000","strokeWidth":2.5,"clip":false,"xOffset":-3},"encoding":{"x":{"datum":"ENE","bandPosition":0},"y":{"datum":492,"axis":{"title":"Precipitación (mm)","values":[0,50,100,150,200,250,300,350,400],"tickCount":9,"format":".1f","labelOverlap":false}},"y2":{"datum":-200}}},
{"data":{"values":[{}]},"mark":{"type":"rule","color":"#ff0000","strokeWidth":2.5,"clip":false,"xOffset":1},"encoding":{"x":{"datum":"ABR","bandPosition":0},"y":{"datum":492,"axis":{"title":"Precipitación (mm)","values":[0,50,100,150,200,250,300,350,400],"tickCount":9,"format":".1f","labelOverlap":false}},"y2":{"datum":-200}}},
{"data":{"values":[{}]},"mark":{"type":"text","text":"b)","font":"Lato","color":"#ff0000","fontSize":54,"fontWeight":"bold","align":"left","baseline":"alphabetic","dx":-116,"clip":false},"encoding":{"x":{"datum":"SEP","bandPosition":0},"y":{"datum":403,"axis":{"title":"Precipitación (mm)","values":[0,50,100,150,200,250,300,350,400],"tickCount":9,"format":".1f","labelOverlap":false}}}}
]}
]}
